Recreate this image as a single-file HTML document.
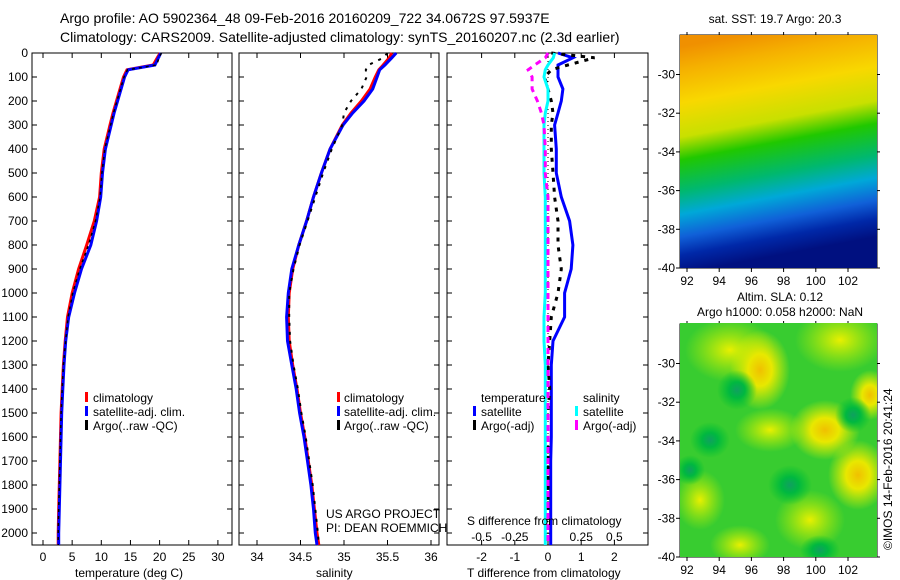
<!DOCTYPE html>
<html><head><meta charset="utf-8"><style>
body{margin:0;background:#fff;}
svg{display:block;font-family:"Liberation Sans",sans-serif;}
text{fill:#000;}
</style></head><body>
<svg id="c" width="900" height="580" viewBox="0 0 900 580" xmlns="http://www.w3.org/2000/svg">
<defs>
<linearGradient id="sstg" x1="0" y1="0.05" x2="0.15" y2="1">
<stop offset="0" stop-color="#f09000"/><stop offset="0.1" stop-color="#f5b000"/><stop offset="0.25" stop-color="#f8d800"/><stop offset="0.4" stop-color="#c8e000"/><stop offset="0.5" stop-color="#20c800"/><stop offset="0.64" stop-color="#00b870"/><stop offset="0.74" stop-color="#00a8d8"/><stop offset="0.84" stop-color="#1060d8"/><stop offset="0.92" stop-color="#0028a8"/><stop offset="1" stop-color="#001080"/>
</linearGradient>
<radialGradient id="yb"><stop offset="0" stop-color="#f0c000"/><stop offset="0.4" stop-color="#e8e800"/><stop offset="1" stop-color="#e0f000" stop-opacity="0"/></radialGradient>
<radialGradient id="yl"><stop offset="0" stop-color="#e8f000"/><stop offset="1" stop-color="#c0f000" stop-opacity="0"/></radialGradient>
<radialGradient id="gb"><stop offset="0" stop-color="#10a060"/><stop offset="0.4" stop-color="#00b840"/><stop offset="1" stop-color="#00c030" stop-opacity="0"/></radialGradient>
<clipPath id="m2"><rect x="680" y="323" width="197" height="234"/></clipPath>
</defs>

<text x="60" y="23" font-size="14">Argo profile: AO 5902364_48 09-Feb-2016 20160209_722 34.0672S 97.5937E</text>
<text x="60" y="42" font-size="14">Climatology: CARS2009. Satellite-adjusted climatology: synTS_20160207.nc (2.3d earlier)</text>

<g id="axes"></g>
<g id="marks"></g>

<g font-size="12">
<rect x="85" y="392" width="3" height="10" fill="#f00"/><text x="93" y="402">climatology</text>
<rect x="85" y="406" width="3" height="10" fill="#00f"/><text x="93" y="416">satellite-adj. clim.</text>
<rect x="85" y="420" width="3" height="10" fill="#000"/><text x="93" y="430">Argo(..raw -QC)</text>
</g>
<g font-size="12">
<rect x="337" y="392" width="3" height="10" fill="#f00"/><text x="344" y="402">climatology</text>
<rect x="337" y="406" width="3" height="10" fill="#00f"/><text x="344" y="416">satellite-adj. clim.</text>
<rect x="337" y="420" width="3" height="10" fill="#000"/><text x="344" y="430">Argo(..raw -QC)</text>
</g>
<g font-size="12">
<text x="481" y="402">temperature</text>
<rect x="473" y="406" width="3" height="10" fill="#00f"/><text x="481" y="416">satellite</text>
<rect x="473" y="420" width="3" height="10" fill="#000"/><text x="481" y="430">Argo(-adj)</text>
<text x="583" y="402">salinity</text>
<rect x="575" y="406" width="3" height="10" fill="#0ff"/><text x="583" y="416">satellite</text>
<rect x="575" y="420" width="3" height="10" fill="#f0f"/><text x="583" y="430">Argo(-adj)</text>
</g>
<text x="326" y="518" font-size="12">US ARGO PROJECT</text>
<text x="326" y="532" font-size="12">PI: DEAN ROEMMICH</text>
<text x="467" y="525" font-size="12">S difference from climatology</text>
<text x="75" y="577" font-size="12">temperature (deg C)</text>
<text x="316" y="577" font-size="12">salinity</text>
<text x="467" y="577" font-size="12">T difference from climatology</text>

<text x="775" y="23" font-size="12" text-anchor="middle">sat. SST: 19.7 Argo: 20.3</text>
<rect x="680" y="35" width="197" height="233" fill="url(#sstg)"/>
<text x="780" y="301" font-size="12" text-anchor="middle">Altim. SLA: 0.12</text>
<text x="780" y="316" font-size="12" text-anchor="middle">Argo h1000: 0.058 h2000: NaN</text>
<g clip-path="url(#m2)">
<rect x="680" y="323" width="197" height="234" fill="#38cc30"/>
<ellipse cx="730" cy="350" rx="45" ry="32" fill="url(#yl)"/>
<ellipse cx="760" cy="370" rx="30" ry="40" fill="url(#yb)"/>
<ellipse cx="840" cy="340" rx="45" ry="32" fill="url(#yl)"/>
<ellipse cx="870" cy="395" rx="20" ry="25" fill="url(#yb)"/>
<ellipse cx="825" cy="430" rx="35" ry="30" fill="url(#yb)"/>
<ellipse cx="770" cy="430" rx="35" ry="22" fill="url(#yl)"/>
<ellipse cx="858" cy="475" rx="30" ry="35" fill="url(#yb)"/>
<ellipse cx="810" cy="520" rx="35" ry="30" fill="url(#yl)"/>
<ellipse cx="700" cy="500" rx="25" ry="30" fill="url(#yl)"/>
<ellipse cx="740" cy="545" rx="30" ry="20" fill="url(#yl)"/>
<ellipse cx="710" cy="440" rx="20" ry="18" fill="url(#gb)"/>
<ellipse cx="737" cy="390" rx="20" ry="20" fill="url(#gb)"/>
<ellipse cx="790" cy="485" rx="22" ry="20" fill="url(#gb)"/>
<ellipse cx="853" cy="415" rx="18" ry="18" fill="url(#gb)"/>
<ellipse cx="820" cy="550" rx="20" ry="15" fill="url(#gb)"/>
<ellipse cx="690" cy="470" rx="15" ry="15" fill="url(#gb)"/>
</g>
<text transform="translate(892,550) rotate(-90)" font-size="12">©IMOS 14-Feb-2016 20:41:24</text>

<script>
var depths=[0,20,50,70,100,150,200,250,300,400,500,600,700,800,900,1000,1100,1200,1300,1400,1500,1600,1700,1800,1900,2000,2050];
var tClim=[20.1,19.6,18.9,14.4,13.8,13.2,12.6,12.0,11.5,10.5,10.0,9.7,8.8,7.5,6.1,5.0,4.2,3.8,3.5,3.3,3.1,3.0,2.9,2.8,2.7,2.6,2.6];
var tSat=[20.2,19.8,19.2,14.6,14.0,13.4,12.8,12.2,11.7,10.7,10.2,9.9,9.2,8.2,6.6,5.4,4.4,3.9,3.6,3.4,3.2,3.1,3.0,2.9,2.8,2.7,2.7];
var tArgo=[20.3,19.9,19.5,14.5,13.9,13.3,12.7,12.1,11.6,10.6,10.1,9.8,9.0,7.8,6.3,5.1,4.3,3.9,3.5,3.3,3.1,3.0,2.9,2.8,2.7,2.6,2.6];
var sClim=[35.55,35.52,35.45,35.4,35.36,35.3,35.2,35.08,34.98,34.84,34.74,34.65,34.57,34.48,34.41,34.37,34.36,34.37,34.41,34.46,34.5,34.55,34.59,34.63,34.66,34.69,34.71];
var sSat=[35.6,35.55,35.47,35.41,35.38,35.33,35.23,35.1,34.99,34.84,34.74,34.65,34.57,34.48,34.4,34.36,34.34,34.35,34.4,34.45,34.49,34.54,34.58,34.62,34.65,34.67,34.69];
var sArgo=[35.5,35.45,35.28,35.25,35.26,35.2,35.08,35.0,34.98,34.86,34.76,34.67,34.58,34.49,34.42,34.37,34.37,34.38,34.42,34.47,34.51,34.56,34.6,34.64,34.67,34.7,34.71];
var dTSat=[0.3,0.75,0.3,0.3,0.3,0.45,0.4,0.3,0.2,0.25,0.25,0.4,0.65,0.75,0.7,0.5,0.5,0.15,0.1,0.1,0.1,0.1,0.08,0.08,0.08,0.08,0.08];
var dTArgo=[0.1,1.4,0.6,0.1,-0.1,0.0,0.1,0.15,0.1,0.1,0.15,0.2,0.3,0.3,0.4,0.3,0.1,0.05,0.0,0.05,0,0,0,0,0,0,0];
var dSSat=[0.05,0.04,0.0,-0.02,-0.03,0.0,0.0,-0.02,-0.03,-0.03,-0.03,-0.02,-0.02,-0.02,-0.02,-0.02,-0.03,-0.03,-0.02,-0.02,-0.02,-0.02,-0.02,-0.02,-0.02,-0.02,-0.02];
var dSArgo=[0.0,-0.02,-0.1,-0.15,-0.12,-0.12,-0.08,-0.05,-0.03,-0.02,-0.02,0,0,0,0,0,0,0,0,0,0,0,0,0,0,0,0];
var depthTicks=[0,100,200,300,400,500,600,700,800,900,1000,1100,1200,1300,1400,1500,1600,1700,1800,1900,2000];
var tTicks=[0,5,10,15,20,25,30];
var sTicks=[34,34.5,35,35.5,36];
var sTickLabels=['34','34.5','35','35.5','36'];
var dTTicks=[-2,-1,0,1,2];
var dSTicks=[-0.5,-0.25,0,0.25,0.5];
var dSTickLabels=['-0.5','-0.25','0','0.25','0.5'];
var lonTicks=[92,94,96,98,100,102];
var latTicks=[-30,-32,-34,-36,-38,-40];

var NS='http://www.w3.org/2000/svg';
var axesG=document.getElementById('axes'), marksG=document.getElementById('marks');
function el(t,a,p){var e=document.createElementNS(NS,t);for(var k in a)e.setAttribute(k,a[k]);(p||axesG).appendChild(e);return e;}
var TOP=53,BOT=545;
function yD(d){return TOP+d*0.24;}
function xT(v){return 43+v*5.83;}
function xS(v){return 257+(v-34)*87;}
function xDT(v){return 548+v*33.2;}
function xDS(v){return 548+v*132.8;}

function frame(x0,x1,name){
  var r=el('rect',{x:x0,y:TOP,width:x1-x0,height:BOT-TOP,fill:'none',stroke:'#000','stroke-width':1});
  
  
  depthTicks.forEach(function(d){
    el('line',{x1:x0,x2:x0+5,y1:yD(d),y2:yD(d),stroke:'#000'});
    el('line',{x1:x1,x2:x1-5,y1:yD(d),y2:yD(d),stroke:'#000'});
  });
}
frame(32,232,'temperature-panel');
frame(239,439,'salinity-panel');
frame(447,648,'difference-panel');
depthTicks.forEach(function(d){
  var t=el('text',{x:28,y:yD(d)+4,'font-size':12,'text-anchor':'end'});
  t.textContent=d;
  
  
});
function xticks(vals,labels,fx,y,topTick,botTick){
  vals.forEach(function(v,i){
    var x=fx(v);
    if(botTick)el('line',{x1:x,x2:x,y1:BOT,y2:BOT-5,stroke:'#000'});
    if(topTick)el('line',{x1:x,x2:x,y1:TOP,y2:TOP+5,stroke:'#000'});
    var t=el('text',{x:x,y:y,'font-size':12,'text-anchor':'middle'});
    t.textContent=labels[i];
    
    
  });
}
xticks(tTicks,tTicks,xT,561,true,true);
xticks(sTicks,sTickLabels,xS,561,true,true);
xticks(dTTicks,dTTicks,xDT,561,false,true);
xticks(dSTicks,dSTickLabels,xDS,541,true,false);

function line(xs,fx,color,w,dash,name){
  var pts=xs.map(function(v,i){return fx(v).toFixed(1)+','+yD(depths[i]).toFixed(1);}).join(' ');
  var a={points:pts,fill:'none',stroke:color,'stroke-width':w};
  if(dash)a['stroke-dasharray']=dash;
  var p=el('polyline',a,marksG);
  
  
}
line(tClim,xT,'#f00',3,null,'temperature-climatology-line');
line(tSat,xT,'#00f',3,null,'temperature-satellite-line');
line(tArgo,xT,'#000',1.5,'3,4','temperature-argo-line');
line(sClim,xS,'#f00',3,null,'salinity-climatology-line');
line(sSat,xS,'#00f',3,null,'salinity-satellite-line');
line(sArgo,xS,'#000',2,'3,6','salinity-argo-line');
var z=el('line',{x1:xDT(0),x2:xDT(0),y1:TOP,y2:BOT,stroke:'#000','stroke-dasharray':'1,3'},marksG);


line(dTSat,xDT,'#00f',3,null,'t-diff-satellite-line');
line(dTArgo,xDT,'#000',3,'4,6','t-diff-argo-line');
line(dSSat,xDS,'#0ff',3,null,'s-diff-satellite-line');
line(dSArgo,xDS,'#f0f',3,'6,5','s-diff-argo-line');

function mapAxes(top,name){
  var bot=top+233;
  var f=el('rect',{x:680,y:top,width:197,height:233,fill:'none',stroke:'#000'});
  
  
  lonTicks.forEach(function(v){
    var x=687+(v-92)*16.1;
    el('line',{x1:x,x2:x,y1:bot,y2:bot+4,stroke:'#000'});
    el('line',{x1:x,x2:x,y1:top,y2:top-3,stroke:'#000'});
    var t=el('text',{x:x,y:bot+17,'font-size':12,'text-anchor':'middle'});
    t.textContent=v;
    
    
  });
  latTicks.forEach(function(v){
    var y=bot-(v+40)*19.35;
    el('line',{x1:680,x2:676,y1:y,y2:y,stroke:'#000'});
    el('line',{x1:877,x2:880,y1:y,y2:y,stroke:'#000'});
    var t=el('text',{x:675,y:y+4,'font-size':12,'text-anchor':'end'});
    t.textContent=v;
    
    
  });
}
mapAxes(35,'sst-map-frame');
mapAxes(324,'sla-map-frame');
</script>
</svg>
</body></html>
